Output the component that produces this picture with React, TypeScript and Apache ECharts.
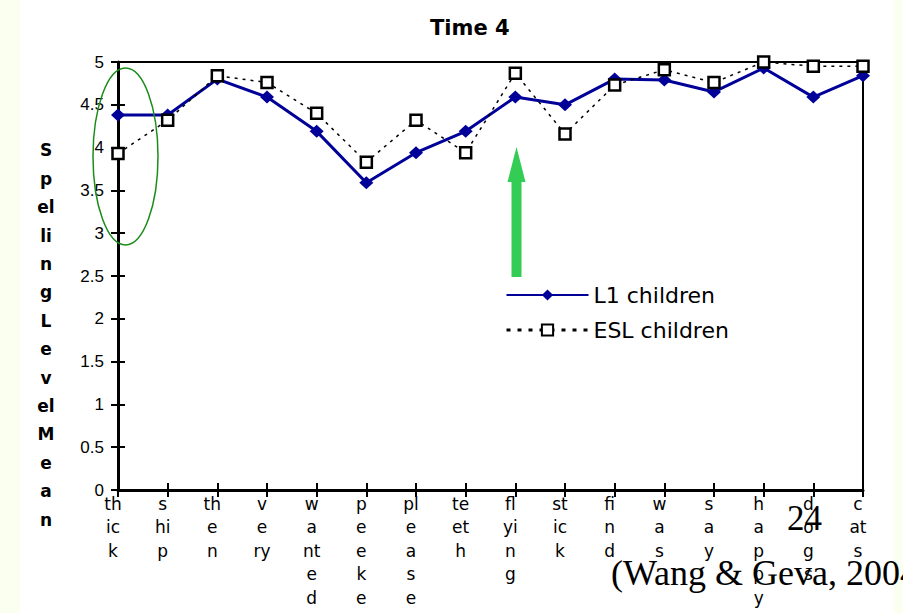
import React, { useEffect, useRef } from "react";
import * as echarts from "echarts";

const categories = ["thick", "ship", "then", "very", "wanted", "peeke", "please", "teeth", "flying", "stick", "find", "was", "say", "happy", "dogs", "cats"];
const tickLabels = ["th\nic\nk", "s\nhi\np", "th\ne\nn", "v\ne\nry", "w\na\nnt\ne\nd", "p\ne\ne\nk\ne", "pl\ne\na\ns\ne", "te\net\nh", "fl\nyi\nn\ng", "st\nic\nk", "fi\nn\nd", "w\na\ns", "s\na\ny", "h\na\np\np\ny", "d\no\ng\ns", "c\nat\ns"];
const l1Children = [4.38, 4.38, 4.80, 4.59, 4.19, 3.59, 3.94, 4.19, 4.59, 4.50, 4.80, 4.79, 4.65, 4.93, 4.59, 4.84];
const eslChildren = [3.93, 4.32, 4.84, 4.76, 4.40, 3.83, 4.32, 3.94, 4.87, 4.16, 4.73, 4.91, 4.76, 5.00, 4.95, 4.95];
const yAxisTitleLines = ["S", "p", "el", "li", "n", "g", "L", "e", "v", "el", "M", "e", "a", "n"];
const titleText = "Time 4";
const seriesNames = ["L1 children", "ESL children"];

const SANS = "'Liberation Sans', Arial, sans-serif";
const WIDE = "'DejaVu Sans', 'Liberation Sans', sans-serif";
const SERIF = "'Liberation Serif', 'Times New Roman', serif";

export default function App() {
  const ref = useRef<HTMLDivElement>(null);
  useEffect(() => {
    document.body.style.margin = "0";
    const chart = echarts.init(ref.current!, null, { renderer: "svg" });
    const yBase = { type: "value", min: 0, max: 5, interval: 0.5 };
    const option: any = {
      animation: false,
      backgroundColor: "#ffffff",
      title: {
        text: titleText,
        left: 425,
        top: 12,
        textStyle: { fontFamily: WIDE, fontSize: 21, fontWeight: "bold", color: "#000" },
      },
      grid: {
        left: 118, right: 40, top: 62, bottom: 123,
        show: true, borderColor: "#000", borderWidth: 2, backgroundColor: "transparent",
      },
      legend: {
        orient: "vertical",
        left: 505,
        top: 284,
        padding: 0,
        itemWidth: 82,
        itemHeight: 14,
        itemGap: 13,
        textStyle: { fontFamily: WIDE, fontSize: 22, color: "#000" },
        data: [
          { name: seriesNames[0], itemStyle: { color: "#000099" } },
          { name: seriesNames[1], lineStyle: { width: 3, type: [4, 7], color: "#000" } },
        ],
      },
      xAxis: [
        {
          type: "category",
          data: categories,
          boundaryGap: false,
          axisLine: { lineStyle: { color: "#000", width: 3 } },
          axisTick: { interval: 0, length: 7, lineStyle: { color: "#000", width: 2 } },
          axisLabel: {
            interval: 0,
            margin: 2,
            color: "#000",
            fontFamily: WIDE,
            fontSize: 17,
            lineHeight: 23.5,
            padding: [0, 10, 0, 0],
            formatter: (_v: string, i: number) => tickLabels[i],
          },
          splitLine: { show: false },
        },
        {
          type: "category",
          data: categories,
          boundaryGap: false,
          position: "bottom",
          axisLine: { show: false },
          axisTick: { interval: 0, inside: true, length: 7, lineStyle: { color: "#000", width: 2 } },
          axisLabel: { show: false },
          splitLine: { show: false },
        },
      ],
      yAxis: [
        {
          ...yBase,
          axisLine: { show: true, lineStyle: { color: "#000", width: 3 } },
          axisTick: { show: true, length: 7, lineStyle: { color: "#000", width: 2 } },
          axisLabel: { margin: 14, color: "#000", fontFamily: SANS, fontSize: 17 },
          splitLine: { show: false },
        },
        {
          ...yBase,
          position: "left",
          axisLine: { show: false },
          axisTick: { show: true, inside: true, length: 7, lineStyle: { color: "#000", width: 2 } },
          axisLabel: { show: false },
          splitLine: { show: false },
        },
      ],
      series: [
        {
          name: seriesNames[0],
          type: "line",
          data: l1Children,
          symbol: "diamond",
          symbolSize: [14, 13],
          lineStyle: { color: "#000099", width: 3 },
          itemStyle: { color: "#000099" },
          z: 3,
        },
        {
          name: seriesNames[1],
          type: "line",
          data: eslChildren,
          symbol: "rect",
          symbolSize: 11,
          lineStyle: { color: "#000", width: 1.5, type: [3, 5] },
          itemStyle: { color: "#ffffff", borderColor: "#000", borderWidth: 2.5 },
          z: 4,
        },
      ],
      graphic: [
        { type: "rect", z: -10, shape: { x: 0, y: 0, width: 20, height: 613 }, style: { fill: "#fbfff0" } },
        { type: "rect", z: -10, shape: { x: 894, y: 0, width: 9, height: 613 }, style: { fill: "#fbfff0" } },
        {
          type: "text",
          x: 46,
          y: 335,
          style: {
            text: yAxisTitleLines.join("\n"),
            fontFamily: WIDE,
            fontSize: 17,
            fontWeight: "bold",
            lineHeight: 28.4,
            fill: "#000",
            align: "center",
            verticalAlign: "middle",
          },
        },
        {
          type: "ellipse",
          z: 10,
          shape: { cx: 125.5, cy: 156.5, rx: 32.5, ry: 88.5 },
          style: { fill: "none", stroke: "#1a8c1a", lineWidth: 1.5 },
        },
        {
          type: "polygon",
          z: 10,
          shape: {
            points: [[516.5, 147], [525.5, 182], [521.5, 182], [521.5, 277], [511.5, 277], [511.5, 182], [507.5, 182]],
          },
          style: { fill: "#33cc55" },
        },
        {
          type: "text",
          z: 20,
          x: 787,
          y: 518,
          style: { text: "24", fontFamily: SERIF, fontSize: 35, fill: "#000", align: "left", verticalAlign: "middle" },
        },
        {
          type: "text",
          z: 20,
          x: 611,
          y: 573,
          style: { text: "(Wang & Geva, 2004)", fontFamily: SERIF, fontSize: 36, fill: "#000", align: "left", verticalAlign: "middle" },
        },
      ],
    };
    chart.setOption(option);
    return () => chart.dispose();
  }, []);
  return <div ref={ref} style={{ width: 903, height: 613 }} />;
}
